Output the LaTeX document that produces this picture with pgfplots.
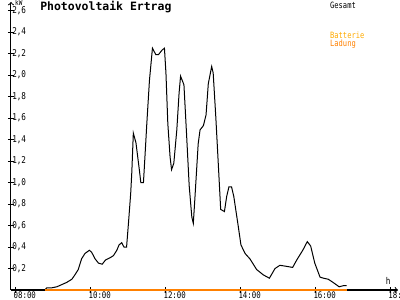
\documentclass[border=0pt]{standalone}
\usepackage{fontspec}
\setmainfont{DejaVu Sans Mono}
\newfontfamily\tickfont{DejaVu Sans Mono}[FakeStretch=0.82]
\newfontfamily\titlefont{DejaVu Sans Mono Bold}
\usepackage{pgfplots}
\pgfplotsset{compat=1.18}
\definecolor{ladung}{RGB}{255,128,0}
\definecolor{batterie}{RGB}{255,170,0}
\pgfplotstableread{
h v
8.77 0
8.82 0.02
8.95 0.02
9.09 0.03
9.22 0.05
9.35 0.07
9.49 0.10
9.57 0.14
9.66 0.19
9.75 0.29
9.84 0.34
9.96 0.37
10.02 0.35
10.11 0.29
10.20 0.25
10.30 0.24
10.39 0.28
10.51 0.30
10.60 0.32
10.69 0.37
10.75 0.42
10.82 0.44
10.88 0.40
10.95 0.40
11.00 0.62
11.06 0.90
11.09 1.10
11.13 1.46
11.20 1.37
11.29 1.12
11.33 1.00
11.40 1.00
11.44 1.24
11.49 1.55
11.56 1.95
11.64 2.25
11.73 2.19
11.80 2.19
11.89 2.23
11.96 2.25
12.00 2.02
12.05 1.55
12.11 1.24
12.15 1.12
12.21 1.18
12.29 1.49
12.35 1.83
12.39 1.99
12.48 1.91
12.55 1.45
12.62 0.97
12.69 0.68
12.73 0.62
12.77 0.84
12.86 1.36
12.91 1.49
13.00 1.53
13.07 1.63
13.13 1.92
13.22 2.08
13.26 2.02
13.33 1.61
13.40 1.15
13.46 0.75
13.56 0.73
13.62 0.87
13.68 0.96
13.75 0.96
13.81 0.87
13.93 0.59
14.00 0.42
14.11 0.34
14.24 0.29
14.42 0.19
14.60 0.14
14.76 0.11
14.91 0.20
15.04 0.23
15.22 0.22
15.38 0.21
15.49 0.28
15.65 0.37
15.77 0.45
15.86 0.41
15.97 0.25
16.11 0.12
16.20 0.11
16.33 0.10
16.46 0.07
16.62 0.03
16.73 0.04
16.82 0.04
}\gesamt
\pgfplotstableread{
h v
8.77 0
16.82 0
}\ladungtab
\begin{document}
\begin{tikzpicture}[x=0.75pt,y=0.75pt]
\useasboundingbox (-11,-10) rectangle (389,290);
\begin{axis}[
  at={(0,0)}, anchor=south west,
  scale only axis, width=290.25pt, height=216pt,
  xmin=7.867, xmax=18.19, ymin=0, ymax=2.68,
  axis lines=left,
  x axis line style={-to, line width=0.75pt},
  y axis line style={-to, line width=0.75pt},
  tick style={black, line width=0.75pt},
  tick align=center, major tick length=4.5pt,
  xtick={8,10,12,14,16,18},
  xticklabels={08:00,10:00,12:00,14:00,16:00,18:00},
  ytick={0.2,0.4,0.6,0.8,1.0,1.2,1.4,1.6,1.8,2.0,2.2,2.4,2.6},
  /pgf/number format/assume math mode=true,
  yticklabel={\pgfmathprintnumber[fixed,fixed zerofill,precision=1,use comma]{\tick}},
  xticklabel style={font=\tickfont\fontsize{6.8}{7}\selectfont, anchor=north west, inner sep=0pt, xshift=-2pt, yshift=1.2pt},
  yticklabel style={font=\tickfont\fontsize{7}{7}\selectfont, anchor=west, inner sep=0pt, xshift=3pt},
  clip=false,
]
\addplot[black, line width=0.75pt] table[x=h,y=v]{\gesamt};
\addplot[ladung, line width=0.9pt] table[x=h,y=v]{\ladungtab};
\node[anchor=west, inner sep=0pt, font=\titlefont\fontsize{8.6}{9}\selectfont] at (rel axis cs:0.075,0.983) {Photovoltaik Ertrag};
\node[anchor=west, inner sep=0pt, font=\tickfont\fontsize{6.5}{7}\selectfont] at (rel axis cs:0.824,0.99) {Gesamt};
\node[anchor=west, inner sep=0pt, text=batterie, font=\tickfont\fontsize{6.5}{7}\selectfont] at (rel axis cs:0.824,0.884) {Batterie};
\node[anchor=west, inner sep=0pt, text=ladung, font=\tickfont\fontsize{6.5}{7}\selectfont] at (rel axis cs:0.824,0.853) {Ladung};
\node[anchor=west, inner sep=0pt, font=\tickfont\fontsize{5.5}{6}\selectfont] at (rel axis cs:0.010,0.997) {kW};
\node[anchor=west, inner sep=0pt, font=\tickfont\fontsize{7}{7}\selectfont] at (rel axis cs:0.968,0.03) {h};
\end{axis}
\end{tikzpicture}
\end{document}
